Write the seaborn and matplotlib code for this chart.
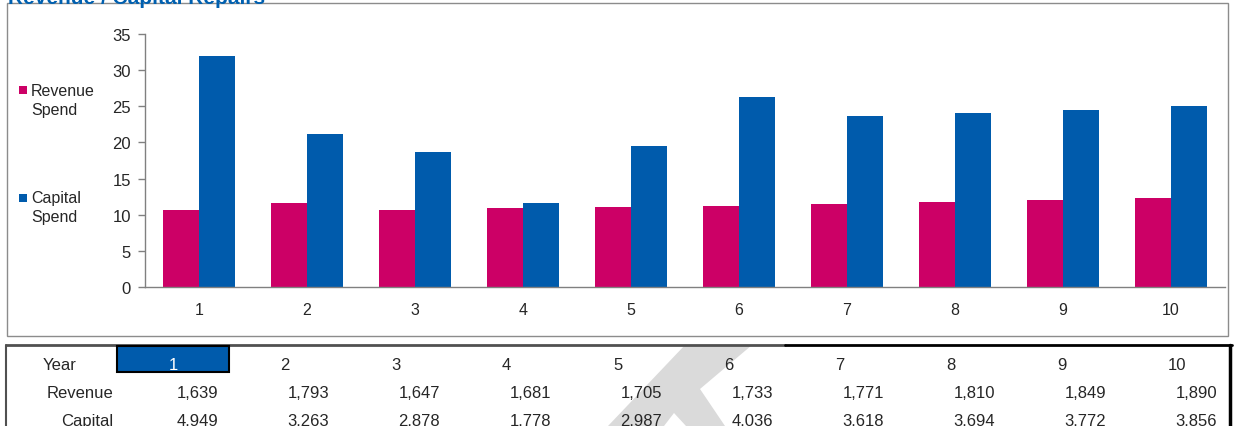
import pandas as pd
import matplotlib.pyplot as plt
import seaborn as sns
from matplotlib.patches import Rectangle, Polygon
from matplotlib.lines import Line2D

years = [1, 2, 3, 4, 5, 6, 7, 8, 9, 10]
revenue_spend = [10.6, 11.6, 10.6, 10.9, 11.1, 11.2, 11.5, 11.7, 12.0, 12.3]
capital_spend = [32.0, 21.1, 18.7, 11.6, 19.5, 26.3, 23.7, 24.1, 24.5, 25.0]
revenue_table = [1639, 1793, 1647, 1681, 1705, 1733, 1771, 1810, 1849, 1890]
capital_table = [4949, 3263, 2878, 1778, 2987, 4036, 3618, 3694, 3772, 3856]
series_names = ['Revenue Spend', 'Capital Spend']
colors = ['#CC0066', '#005BAC']

sns.set_style('white')
plt.rcParams['font.family'] = ['Liberation Sans', 'DejaVu Sans']

W, H = 1237, 427


def fx(x):
    return x / W


def fy(y):
    return 1 - y / H


df = pd.DataFrame({
    'Year': [str(y) for y in years] * 2,
    'Value': revenue_spend + capital_spend,
    'Series': [series_names[0]] * 10 + [series_names[1]] * 10,
})

fig = plt.figure(figsize=(W / 100, H / 100), dpi=100)
ax = fig.add_axes([fx(145), fy(288), fx(1225) - fx(145), fy(35) - fy(288)])

sns.barplot(data=df, x='Year', y='Value', hue='Series', hue_order=series_names,
            palette=colors, width=0.66, gap=0, saturation=1, linewidth=0,
            legend=False, ax=ax)

ax.set_ylim(0, 35)
ax.set_xlim(-0.5, 9.5)
ax.set_yticks(range(0, 36, 5))
ax.set_xlabel('')
ax.set_ylabel('')
ax.set_xticks(range(10))
ax.set_xticklabels([str(y) for y in years])
ax.set_xticks([i - 0.5 for i in range(11)], minor=True)
ax.tick_params(axis='x', which='major', length=0, pad=11, labelsize=11.5)
ax.tick_params(axis='x', which='minor', length=5, width=1, color='#808080', direction='out')
ax.tick_params(axis='y', length=5, width=1, color='#808080', direction='out', pad=5, labelsize=12)
ax.tick_params(left=True, bottom=True)
for s in ['top', 'right']:
    ax.spines[s].set_visible(False)
for s in ['left', 'bottom']:
    ax.spines[s].set_color('#808080')
    ax.spines[s].set_linewidth(1)
ax.set_facecolor('none')

# chart frame
fig.add_artist(Rectangle((fx(7), fy(337)), fx(1228) - fx(7), fy(4) - fy(337),
                         transform=fig.transFigure, fill=False, ec='#8c8c8c', lw=1, zorder=0))

# title (cut off at the top, as in the source)
fig.text(fx(8), fy(4), 'Revenue / Capital Repairs', color='#0060B0', fontsize=15,
         fontweight='bold', va='baseline', ha='left')

# legend
leg_y = [91, 199]
for name, c, y in zip(series_names, colors, leg_y):
    fig.add_artist(Rectangle((fx(19), fy(y + 4)), fx(8), 8 / H, transform=fig.transFigure,
                             color=c, lw=0))
    a, b = name.split(' ')
    fig.text(fx(31), fy(y), a, fontsize=11.5, va='center', ha='left')
    fig.text(fx(31), fy(y + 19), b, fontsize=11.5, va='center', ha='left')

# watermark
fig.add_artist(Polygon([(fx(685), fy(346)), (fx(752), fy(346)), (fx(700), fy(390)),
                        (fx(725), fy(427)), (fx(686), fy(427)), (fx(674), fy(414)),
                        (fx(664), fy(427)), (fx(608), fy(427))],
                       closed=True, transform=fig.transFigure, color='#dadada', lw=0, zorder=1))

# table frame
fig.add_artist(Line2D([fx(6), fx(785)], [fy(346), fy(346)], transform=fig.transFigure,
                      color='#505050', lw=2))
fig.add_artist(Line2D([fx(785), fx(1232)], [fy(346), fy(346)], transform=fig.transFigure,
                      color='black', lw=2))
fig.add_artist(Line2D([fx(6), fx(6)], [fy(346), fy(430)], transform=fig.transFigure,
                      color='#505050', lw=1.5))
fig.add_artist(Line2D([fx(1230), fx(1230)], [fy(346), fy(430)], transform=fig.transFigure,
                      color='black', lw=2.5))
fig.add_artist(Rectangle((fx(117), fy(373)), fx(229) - fx(117), fy(347) - fy(373),
                         transform=fig.transFigure, fc='#005BAC', ec='black', lw=1.5, zorder=2))

fs = 12
fig.text(fx(43), fy(370), 'Year', fontsize=fs, va='baseline', ha='left')
fig.text(fx(113), fy(398), 'Revenue', fontsize=fs, va='baseline', ha='right')
fig.text(fx(113), fy(426), 'Capital', fontsize=fs, va='baseline', ha='right')
for i, y in enumerate(years):
    if i == 0:
        fig.text(fx(173), fy(370), str(y), fontsize=fs, va='baseline', ha='center',
                 color='white', zorder=3)
    else:
        fig.text(fx(280 + 111 * (i - 1)), fy(370), str(y), fontsize=fs, va='baseline', ha='left')
    fig.text(fx(218 + 111 * i), fy(398), f'{revenue_table[i]:,}', fontsize=fs,
             va='baseline', ha='right')
    fig.text(fx(218 + 111 * i), fy(426), f'{capital_table[i]:,}', fontsize=fs,
             va='baseline', ha='right')

plt.savefig('out.png', dpi=100)
